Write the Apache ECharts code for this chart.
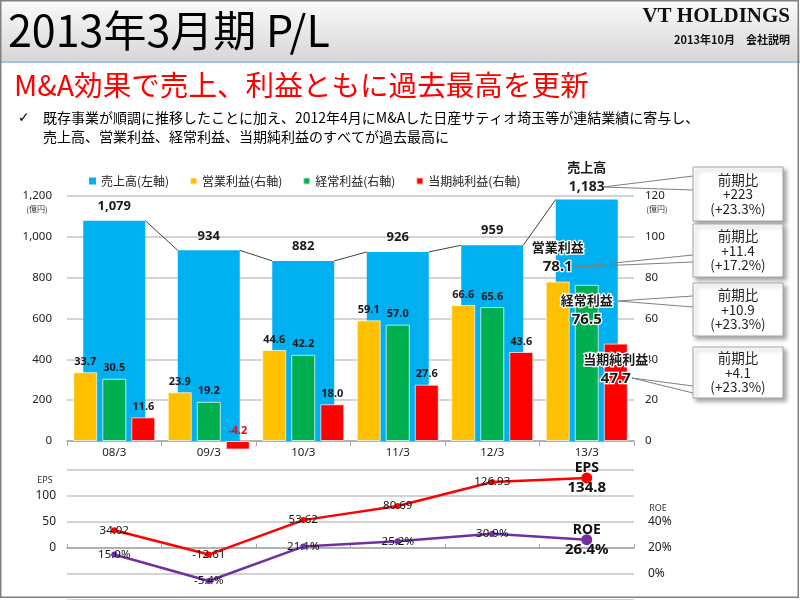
<!DOCTYPE html>
<html><head><meta charset="utf-8">
<script src="https://cdn.jsdelivr.net/npm/echarts@6/dist/echarts.min.js"></script>
<style>html,body{margin:0;padding:0;background:#fff}#c{width:800px;height:600px}</style>
</head><body><div id="c"></div>
<script>
const categories = ['08/3','09/3','10/3','11/3','12/3','13/3'];
const sales = [1079, 934, 882, 926, 959, 1183];
const opProfit = [33.7, 23.9, 44.6, 59.1, 66.6, 78.1];
const ordProfit = [30.5, 19.2, 42.2, 57.0, 65.6, 76.5];
const netProfit = [11.6, -4.2, 18.0, 27.6, 43.6, 47.7];
const eps = [34.02, -12.61, 53.62, 80.69, 126.93, 134.8];
const roe = [15.0, -5.4, 21.1, 25.2, 30.9, 26.4];
const seriesNames = ['売上高(左軸)', '営業利益(右軸)', '経常利益(右軸)', '当期純利益(右軸)'];
const salesAxis = {min: 0, max: 1200, interval: 200};
const profitAxis = {min: 0, max: 120, interval: 20};
const epsAxis = {min: -100, max: 150, interval: 50};
const roeAxis = {min: -20, max: 80, interval: 20};
const callouts = [
  ['前期比', '+223', '(+23.3%)'],
  ['前期比', '+11.4', '(+17.2%)'],
  ['前期比', '+10.9', '(+23.3%)'],
  ['前期比', '+4.1', '(+23.3%)']
];

const JP = '"Noto Sans CJK JP", "Noto Sans", sans-serif';
const NUM = '"Noto Sans", "DejaVu Sans", sans-serif';
const COL = {blue: '#00B0F0', yellow: '#FFC000', green: '#00B050', red: '#FF0000', purple: '#7030A0'};
const last = categories.length - 1;
const BLUE_W = 62;

const chart = echarts.init(document.getElementById('c'), null, {renderer: 'canvas'});

function smallLabel(color) {
  return {show: true, position: 'top', distance: 5, fontFamily: NUM, fontWeight: 'bold', fontSize: 11, color: color || '#1a1a1a',
    formatter: p => p.value.toFixed(1)};
}
const haloText = {fontFamily: JP, fontWeight: 'bold', color: '#1a1a1a', textBorderColor: '#fff', textBorderWidth: 2.5};

const salesData = sales.map((v, i) => i === last ? {value: v, label: {
  show: true, position: 'top', distance: 2,
  formatter: '{a|売上高}\n{b|' + v.toLocaleString('en-US') + '}',
  rich: {a: {fontFamily: JP, fontWeight: 'bold', fontSize: 13, color: '#1a1a1a', lineHeight: 20},
         b: {fontFamily: NUM, fontWeight: 'bold', fontSize: 14, color: '#1a1a1a', lineHeight: 20}}
}} : v);

function bigLabel(name, v, pos, dist) {
  return {show: true, position: pos, distance: dist,
    formatter: '{a|' + name + '}\n{b|' + v.toFixed(1) + '}',
    rich: {a: Object.assign({fontSize: 13, lineHeight: 19}, haloText),
           b: Object.assign({}, haloText, {fontFamily: NUM, fontSize: 15, lineHeight: 20})}};
}
const opData = opProfit.map((v, i) => i === last ? {value: v, label: bigLabel('営業利益', v, 'top', 5)} : v);
const ordData = ordProfit.map((v, i) => i === last ? {value: v, label: bigLabel('経常利益', v, 'insideTop', 6)} : v);
const netData = netProfit.map((v, i) => {
  if (i === last) return {value: v, label: bigLabel('当期純利益', v, 'insideTop', 6)};
  if (v < 0) return {value: v, label: {color: COL.red}};
  return v;
});

const connData = [];
for (let i = 0; i < sales.length - 1; i++) connData.push([i, sales[i], sales[i + 1]]);

const epsData = eps.map((v, i) => i === last ? {value: v, symbolSize: 11, label: {
  show: true, position: 'inside', formatter: '{a|EPS}\n{b|' + v + '}',
  rich: {a: {fontFamily: NUM, fontWeight: 'bold', fontSize: 14, color: '#111', lineHeight: 20},
         b: {fontFamily: NUM, fontWeight: 'bold', fontSize: 15, color: '#111', lineHeight: 20}}}} : v);
const roeData = roe.map((v, i) => i === last ? {value: v, symbolSize: 11, label: {
  show: true, position: 'inside', formatter: '{a|ROE}\n{b|' + v.toFixed(1) + '%}',
  rich: {a: {fontFamily: NUM, fontWeight: 'bold', fontSize: 14, color: '#111', lineHeight: 20},
         b: {fontFamily: NUM, fontWeight: 'bold', fontSize: 15, color: '#111', lineHeight: 20}}}} : v);

const gridColor = '#C4C4C4';

const graphics = [
  {type: 'rect', shape: {x: 0, y: 0, width: 800, height: 62}, silent: true, z: -10,
   style: {fill: new echarts.graphic.LinearGradient(0, 0, 0, 1, [{offset: 0, color: '#FAFAFA'}, {offset: 1, color: '#D6D6D6'}])}},
  {type: 'line', shape: {x1: 0, y1: 62, x2: 800, y2: 62}, silent: true, style: {stroke: '#9DC3E6', lineWidth: 2}},
  {type: 'text', x: 8, y: 31, silent: true, style: {text: '2013年3月期 P/L', fontFamily: JP, fontSize: 43, fill: '#000', verticalAlign: 'middle'}},
  {type: 'text', x: 790, y: 17, silent: true, style: {text: 'VT HOLDINGS', fontFamily: '"Liberation Serif", "DejaVu Serif", serif', fontWeight: 'bold', fontSize: 21, fill: '#111', align: 'right', verticalAlign: 'middle', shadowColor: 'rgba(0,0,0,0.35)', shadowOffsetX: 1, shadowOffsetY: 1, shadowBlur: 1}},
  {type: 'text', x: 790, y: 40, silent: true, style: {text: '2013年10月　会社説明', fontFamily: JP, fontWeight: 'bold', fontSize: 11, fill: '#111', align: 'right', verticalAlign: 'middle'}},
  {type: 'text', x: 14, y: 85, silent: true, style: {text: 'M&A効果で売上、利益ともに過去最高を更新', fontFamily: JP, fontSize: 28.6, fill: '#FF0000', verticalAlign: 'middle'}},
  {type: 'text', x: 18, y: 118, silent: true, style: {text: '✓', fontFamily: '"DejaVu Sans", sans-serif', fontSize: 14, fill: '#000', verticalAlign: 'middle'}},
  {type: 'text', x: 43, y: 118, silent: true, style: {text: '既存事業が順調に推移したことに加え、2012年4月にM&Aした日産サティオ埼玉等が連結業績に寄与し、', fontFamily: JP, fontSize: 14, fill: '#000', verticalAlign: 'middle'}},
  {type: 'text', x: 43, y: 137, silent: true, style: {text: '売上高、営業利益、経常利益、当期純利益のすべてが過去最高に', fontFamily: JP, fontSize: 14, fill: '#000', verticalAlign: 'middle'}},
  {type: 'text', x: 37, y: 209, silent: true, style: {text: '(億円)', fontFamily: JP, fontSize: 8, fill: '#333', align: 'center', verticalAlign: 'middle'}},
  {type: 'text', x: 657, y: 209, silent: true, style: {text: '(億円)', fontFamily: JP, fontSize: 8, fill: '#333', align: 'center', verticalAlign: 'middle'}},
  {type: 'text', x: 45, y: 480, silent: true, style: {text: 'EPS', fontFamily: NUM, fontSize: 9, fill: '#333', align: 'center', verticalAlign: 'middle'}},
  {type: 'text', x: 658, y: 508, silent: true, style: {text: 'ROE', fontFamily: NUM, fontSize: 9, fill: '#333', align: 'center', verticalAlign: 'middle'}},
  {type: 'rect', shape: {x: 0.75, y: 0.75, width: 797.5, height: 596.5}, silent: true, z: 100, style: {fill: 'none', stroke: '#808080', lineWidth: 1.5}}
];
const boxes = [
  {y: 167, h: 54, tip: [603, 187], e1: 176, e2: 190},
  {y: 224, h: 53, tip: [574, 267], e1: 255, e2: 262},
  {y: 283, h: 53, tip: [618, 301], e1: 296, e2: 307},
  {y: 347, h: 51, tip: [632, 378], e1: 386, e2: 393}
];
boxes.forEach((b, k) => {
  graphics.push({type: 'polyline', silent: true, z: 50, shape: {points: [[693, b.e1], b.tip, [693, b.e2]]}, style: {fill: 'none', stroke: '#7F7F7F', lineWidth: 1}});
  graphics.push({type: 'rect', silent: true, z: 51, shape: {x: 693, y: b.y, width: 90, height: b.h},
    style: {fill: '#fff', stroke: '#A6A6A6', lineWidth: 1, shadowColor: 'rgba(0,0,0,0.35)', shadowBlur: 4, shadowOffsetX: 3, shadowOffsetY: 3}});
  graphics.push({type: 'text', silent: true, z: 52, x: 738, y: b.y + b.h / 2,
    style: {text: callouts[k].join('\n'), fontFamily: JP, fontSize: 13.5, lineHeight: 14.5, fill: '#222', align: 'center', verticalAlign: 'middle'}});
});

const option = {
  animation: false,
  backgroundColor: '#fff',
  textStyle: {fontFamily: NUM},
  legend: {
    data: seriesNames, left: 84, top: 170, itemWidth: 7, itemHeight: 7, itemGap: 20, icon: 'rect',
    textStyle: {fontFamily: JP, fontSize: 12, color: '#222'}
  },
  grid: [
    {left: 67, width: 567, top: 196, height: 245},
    {left: 67, width: 567, top: 470, height: 131}
  ],
  xAxis: [
    {type: 'category', data: categories, gridIndex: 0,
     axisLine: {lineStyle: {color: '#A6A6A6', width: 1.5}},
     axisTick: {show: true, length: 5, lineStyle: {color: '#A6A6A6'}},
     axisLabel: {fontFamily: NUM, fontSize: 11.5, color: '#222', margin: 6}},
    {type: 'category', data: categories, gridIndex: 0, show: false},
    {type: 'category', data: categories, gridIndex: 1, position: 'top',
     axisLine: {show: true, lineStyle: {color: '#A6A6A6', width: 1.5}},
     axisTick: {show: true, length: 4, lineStyle: {color: '#A6A6A6'}},
     axisLabel: {show: false}}
  ],
  yAxis: [
    {type: 'value', gridIndex: 0, min: salesAxis.min, max: salesAxis.max, interval: salesAxis.interval,
     axisLine: {show: false}, axisTick: {show: false},
     splitLine: {lineStyle: {color: gridColor, width: 1.5}},
     axisLabel: {fontFamily: NUM, fontSize: 11.5, color: '#222', margin: 15, formatter: v => v.toLocaleString('en-US')}},
    {type: 'value', gridIndex: 0, position: 'right', min: profitAxis.min, max: profitAxis.max, interval: profitAxis.interval,
     axisLine: {show: false}, axisTick: {show: false}, splitLine: {show: false},
     axisLabel: {fontFamily: NUM, fontSize: 11.5, color: '#222', margin: 11}},
    {type: 'value', gridIndex: 1, min: epsAxis.min, max: epsAxis.max, interval: epsAxis.interval,
     axisLine: {show: false}, axisTick: {show: false},
     splitLine: {lineStyle: {color: gridColor, width: 1.5}},
     axisLabel: {fontFamily: NUM, fontSize: 12, color: '#222', margin: 11, formatter: v => (v < 0 || v > 100) ? '' : String(v)}},
    {type: 'value', gridIndex: 1, position: 'right', min: roeAxis.min, max: roeAxis.max, interval: roeAxis.interval,
     axisLine: {show: false}, axisTick: {show: false}, splitLine: {show: false},
     axisLabel: {fontFamily: NUM, fontSize: 12, color: '#222', margin: 14, formatter: v => (v < 0 || v > 40) ? '' : v + '%'}}
  ],
  series: [
    {name: seriesNames[0], type: 'bar', xAxisIndex: 0, yAxisIndex: 0, barWidth: BLUE_W, data: salesData, z: 1,
     itemStyle: {color: COL.blue},
     label: {show: true, position: 'top', distance: 8, fontFamily: NUM, fontWeight: 'bold', fontSize: 13, color: '#1a1a1a',
       formatter: p => p.value.toLocaleString('en-US')}},
    {type: 'custom', xAxisIndex: 0, yAxisIndex: 0, data: connData, silent: true, z: 2,
     renderItem: (params, api) => {
       const i = api.value(0);
       const p1 = api.coord([i, api.value(1)]);
       const p2 = api.coord([i + 1, api.value(2)]);
       const half = BLUE_W / 2;
       return {type: 'line', shape: {x1: p1[0] + half, y1: p1[1], x2: p2[0] - half, y2: p2[1]}, style: {stroke: '#404040', lineWidth: 1}};
     }},
    {name: seriesNames[1], type: 'bar', xAxisIndex: 1, yAxisIndex: 1, barWidth: 24, barGap: '21%', data: opData, z: 3,
     itemStyle: {color: COL.yellow, borderColor: 'rgba(255,255,255,0.7)', borderWidth: 1}, label: smallLabel()},
    {name: seriesNames[2], type: 'bar', xAxisIndex: 1, yAxisIndex: 1, barWidth: 24, barGap: '21%', data: ordData, z: 3,
     itemStyle: {color: COL.green, borderColor: 'rgba(255,255,255,0.7)', borderWidth: 1}, label: smallLabel()},
    {name: seriesNames[3], type: 'bar', xAxisIndex: 1, yAxisIndex: 1, barWidth: 24, barGap: '21%', data: netData, z: 3, clip: false,
     itemStyle: {color: COL.red, borderColor: 'rgba(255,255,255,0.7)', borderWidth: 1}, label: smallLabel()},
    {name: 'EPS', type: 'line', xAxisIndex: 2, yAxisIndex: 2, data: epsData, symbol: 'circle', symbolSize: 6,
     lineStyle: {color: COL.red, width: 2.5}, itemStyle: {color: COL.red},
     label: {show: true, position: 'inside', fontFamily: NUM, fontSize: 11.5, color: '#111', formatter: p => String(p.value)}},
    {name: 'ROE', type: 'line', xAxisIndex: 2, yAxisIndex: 3, data: roeData, symbol: 'circle', symbolSize: 6,
     lineStyle: {color: COL.purple, width: 2.5}, itemStyle: {color: COL.purple},
     label: {show: true, position: 'inside', fontFamily: NUM, fontSize: 11.5, color: '#111', formatter: p => p.value.toFixed(1) + '%'}}
  ],
  graphic: graphics
};
chart.setOption(option);
</script></body></html>
